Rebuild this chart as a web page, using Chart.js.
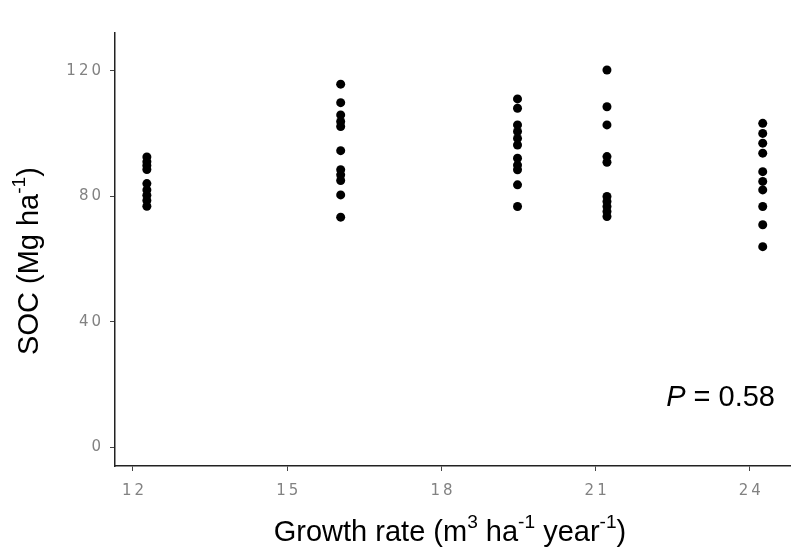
<!DOCTYPE html>
<html>
<head>
<meta charset="utf-8">
<script src="https://cdn.jsdelivr.net/npm/chart.js@4/dist/chart.umd.min.js"></script>
<style>
    html, body { margin: 0; padding: 0; background: #fff; overflow: hidden; }
    canvas { display: block; }
</style>
</head>
<body>
<canvas id="socChart" width="791" height="554"></canvas>
<script>
// Growth rate groups (x) and SOC values
const growthRates = [12.27, 16.04, 19.48, 21.22, 24.25];
const soc12 = [92.5, 91, 89.8, 88.5, 84, 82, 80.3, 78.6, 76.8];
const soc16 = [115.7, 109.8, 105.9, 103.8, 102.2, 94.5, 88.4, 86.8, 85, 80.4, 73.3];
const soc19 = [111, 108, 102.7, 100.6, 98.4, 96.3, 92.1, 89.9, 88.4, 83.6, 76.7];
const soc21 = [120.2, 108.5, 102.7, 92.6, 90.8, 79.9, 78.3, 76.7, 75.1, 73.5];
const soc24 = [103.2, 100, 96.9, 93.7, 87.8, 84.7, 82, 76.7, 70.9, 63.9];
const xTicks = [12, 15, 18, 21, 24];
const yTicks = [0, 40, 80, 120];
const pLabel = '0.58';

const groups = [soc12, soc16, soc19, soc21, soc24];
const points = [];
groups.forEach((vals, i) => {
    vals.forEach(v => points.push({ x: growthRates[i], y: v }));
});

const FONT = '"Liberation Sans", Arial, sans-serif';

// draws a line of text with superscript pieces, centred on (cx, cy)
function drawRich(ctx, parts, cx, cy, size, rotate) {
    ctx.save();
    ctx.translate(cx, cy);
    if (rotate) ctx.rotate(-Math.PI / 2);
    ctx.fillStyle = '#000';
    ctx.textBaseline = 'middle';
    ctx.textAlign = 'left';
    const fontOf = p => `${p.italic ? 'italic ' : ''}${p.sup ? size * 0.66 : size}px ${FONT}`;
    let total = 0;
    parts.forEach(p => {
        ctx.font = fontOf(p);
        p.w = ctx.measureText(p.t).width;
        total += p.w;
    });
    let x = -total / 2;
    parts.forEach(p => {
        ctx.font = fontOf(p);
        ctx.fillText(p.t, x, p.sup ? -size * 0.36 : 0);
        x += p.w;
    });
    ctx.restore();
}

const titlesPlugin = {
    id: 'titles',
    beforeDraw(chart) {
        chart.ctx.letterSpacing = '3px';
    },
    afterDraw(chart) {
        const ctx = chart.ctx;
        ctx.letterSpacing = '0px';
        drawRich(ctx, [
            { t: 'SOC (Mg ha' }, { t: '-1', sup: true }, { t: ')' }
        ], 30, 261, 29, true);
        drawRich(ctx, [
            { t: 'Growth rate (m' }, { t: '3', sup: true }, { t: ' ha' }, { t: '-1', sup: true },
            { t: ' year' }, { t: '-1', sup: true }, { t: ')' }
        ], 450, 533, 29, false);
        const pPos = {
            x: chart.scales.x.getPixelForValue(23.43),
            y: chart.scales.y.getPixelForValue(15.8)
        };
        drawRich(ctx, [
            { t: 'P', italic: true }, { t: ' = ' + pLabel }
        ], pPos.x, pPos.y, 29, false);
    }
};

const ctx = document.getElementById('socChart').getContext('2d');
new Chart(ctx, {
    type: 'scatter',
    data: {
        datasets: [{
            data: points,
            backgroundColor: '#000',
            borderColor: '#000',
            pointRadius: 4.5,
            borderWidth: 0
        }]
    },
    options: {
        responsive: false,
        animation: false,
        layout: { autoPadding: false, padding: { top: 33, right: 0, left: 0, bottom: 0 } },
        plugins: { legend: { display: false }, tooltip: { enabled: false } },
        scales: {
            x: {
                type: 'linear',
                min: 11.65,
                max: 24.8,
                afterBuildTicks: s => { s.ticks = xTicks.map(v => ({ value: v })); },
                afterFit: s => { s.height = 88; s.paddingLeft = 0; s.paddingRight = 0; },
                border: { display: true, color: '#222', width: 1.5 },
                grid: { drawOnChartArea: false, drawTicks: true, tickLength: 5, color: '#444', lineWidth: 1 },
                ticks: { color: '#828282', font: { size: 15, family: '"DejaVu Sans", sans-serif' }, padding: 11, maxRotation: 0, labelOffset: 1.5 }
            },
            y: {
                min: -6,
                max: 132,
                afterBuildTicks: s => { s.ticks = yTicks.map(v => ({ value: v })); },
                afterFit: s => { s.width = 115; s.paddingTop = 0; s.paddingBottom = 0; },
                border: { display: true, color: '#222', width: 1.5 },
                grid: { drawOnChartArea: false, drawTicks: true, tickLength: 5, color: '#444', lineWidth: 1 },
                ticks: { color: '#828282', font: { size: 15, family: '"DejaVu Sans", sans-serif' }, padding: 6 }
            }
        }
    },
    plugins: [titlesPlugin]
});
</script>
</body>
</html>
